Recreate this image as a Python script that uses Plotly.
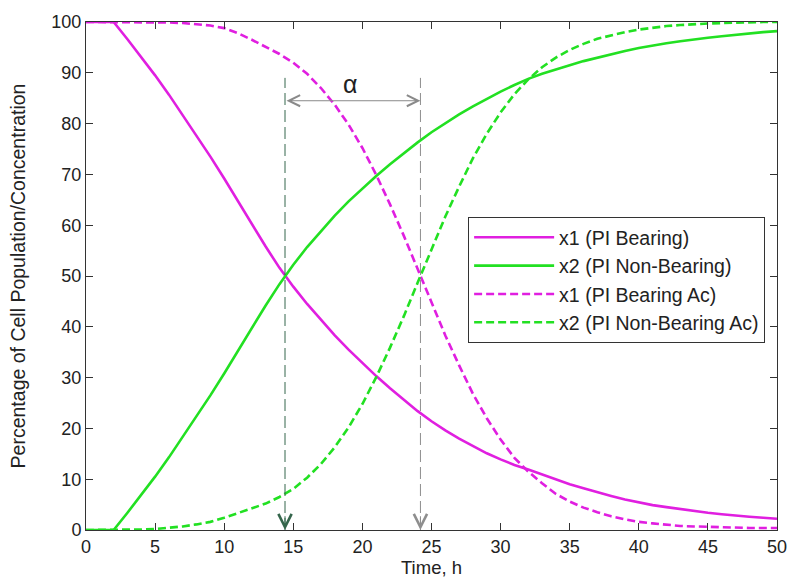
import plotly.graph_objects as go

# ---- data ----
time_h = list(range(0, 51))

x1_pi_bearing = [100, 100, 100, 96.6, 93.1, 89.5, 85.7, 81.7, 77.7, 73.5,
                 69.2, 64.7, 60.2, 55.8, 51.6, 47.9, 44.5, 41.3, 38.3, 35.5,
                 32.8, 30.3, 27.9, 25.6, 23.4, 21.4, 19.6, 18.0, 16.5, 15.1,
                 13.9, 12.8, 11.9, 10.9, 9.9, 9.0, 8.2, 7.4, 6.7, 6.0,
                 5.4, 4.9, 4.5, 4.1, 3.7, 3.4, 3.1, 2.8, 2.6, 2.4, 2.2]

x2_pi_nonbearing = [0, 0, 0, 3.4, 6.9, 10.5, 14.3, 18.3, 22.3, 26.5,
                    30.8, 35.3, 39.8, 44.2, 48.4, 52.2, 55.7, 58.9, 61.9, 64.7,
                    67.3, 69.7, 72.0, 74.2, 76.3, 78.3, 80.1, 81.8, 83.4, 84.9,
                    86.3, 87.6, 88.8, 89.8, 90.7, 91.5, 92.3, 93.0, 93.7, 94.3,
                    94.9, 95.4, 95.8, 96.2, 96.6, 96.9, 97.2, 97.5, 97.8, 98.0, 98.2]

x1_pi_bearing_ac = [100, 100, 100, 100, 100, 100, 99.9, 99.8, 99.6, 99.3,
                    98.8, 97.8, 96.5, 95.1, 93.7, 92.0, 89.8, 87.0, 83.7, 79.8,
                    75.2, 69.9, 64.1, 57.9, 51.3, 44.7, 38.3, 32.4, 26.8, 22.0,
                    17.8, 14.2, 11.5, 9.2, 7.1, 5.6, 4.4, 3.5, 2.7, 2.1,
                    1.6, 1.3, 1.0, 0.8, 0.7, 0.6, 0.5, 0.5, 0.4, 0.4, 0.4]

x2_pi_nonbearing_ac = [0, 0, 0, 0, 0.1, 0.2, 0.4, 0.7, 1.1, 1.6,
                       2.4, 3.3, 4.2, 5.2, 6.5, 8.1, 10.3, 13.0, 16.3, 20.2,
                       24.8, 30.1, 35.9, 42.1, 48.7, 55.3, 61.7, 67.6, 73.2, 78.0,
                       82.2, 85.8, 88.7, 91.1, 93.0, 94.5, 95.7, 96.7, 97.4, 98.0,
                       98.5, 98.9, 99.2, 99.4, 99.6, 99.7, 99.8, 99.9, 99.9, 100, 100]

series_names = ["x1 (PI Bearing)", "x2 (PI Non-Bearing)",
                "x1 (PI Bearing Ac)", "x2 (PI Non-Bearing Ac)"]

x_ticks = [0, 5, 10, 15, 20, 25, 30, 35, 40, 45, 50]
y_ticks = [0, 10, 20, 30, 40, 50, 60, 70, 80, 90, 100]

# annotation positions (half-population times and alpha marker)
t_half_pi = 14.4
t_half_ac = 24.2
alpha_level = 84.5
alpha_x = 19.1
marker_top = 89.0
alpha_label = "α"

# ---- styles ----
MAG = "#e01fe0"
GRN = "#22e022"
FONT = "Liberation Sans, Arial, sans-serif"
LW = 2.6

fig = go.Figure()
series = [x1_pi_bearing, x2_pi_nonbearing, x1_pi_bearing_ac, x2_pi_nonbearing_ac]
colors = [MAG, GRN, MAG, GRN]
dashes = ["solid", "solid", "8px,4px", "8px,4px"]
for name, ys, c, d in zip(series_names, series, colors, dashes):
    fig.add_trace(go.Scatter(x=time_h, y=ys, mode="lines", name=name,
                             line=dict(color=c, width=LW, dash=d),
                             cliponaxis=False))

# vertical dashed marker lines
fig.add_shape(type="line", x0=t_half_pi, x1=t_half_pi, y0=0, y1=marker_top,
              xref="x", yref="y", line=dict(color="#35664c", width=1, dash="12px,5px"))
fig.add_shape(type="line", x0=t_half_ac, x1=t_half_ac, y0=0, y1=marker_top,
              xref="x", yref="y", line=dict(color="#8e8e8e", width=1, dash="12px,5px"))

# arrow heads at bottom
for t, col in [(t_half_pi, "#35664c"), (t_half_ac, "#8e8e8e")]:
    fig.add_annotation(x=t, y=0, ax=t, ay=3, xref="x", yref="y", axref="x", ayref="y",
                       text="", showarrow=True, arrowhead=5, arrowsize=2.6,
                       arrowwidth=1, arrowcolor=col)

# double-headed alpha arrow
fig.add_annotation(x=t_half_ac, y=alpha_level, ax=t_half_pi, ay=alpha_level,
                   xref="x", yref="y", axref="x", ayref="y", text="",
                   showarrow=True, arrowside="end+start", arrowhead=5, startarrowhead=5,
                   arrowsize=2.2, startarrowsize=2.2, arrowwidth=1, arrowcolor="#8a8a8a")
fig.add_annotation(x=alpha_x, y=alpha_level, xref="x", yref="y",
                   text=alpha_label, showarrow=False, yanchor="bottom", yshift=1,
                   font=dict(family=FONT, size=25, color="#222"))

axis_common = dict(showgrid=False, zeroline=False, showline=True, linecolor="#333",
                   linewidth=1, mirror="ticks", ticks="inside", ticklen=7,
                   tickcolor="#333", tickfont=dict(family=FONT, size=18, color="#222"))

fig.update_xaxes(range=[0, 50], tickvals=x_ticks, **axis_common,
                 title=dict(text="Time, h", font=dict(family=FONT, size=18.5, color="#222"),
                            standoff=4))
fig.update_yaxes(range=[0, 100], tickvals=y_ticks, **axis_common,
                 title=dict(text="Percentage of Cell Population/Concentration",
                            font=dict(family=FONT, size=19.5, color="#222"), standoff=20))

fig.update_layout(
    width=799, height=586,
    margin=dict(l=86, r=12, t=18, b=56),
    paper_bgcolor="white", plot_bgcolor="white",
    showlegend=True,
    legend=dict(x=0.553, y=0.616, xanchor="left", yanchor="top",
                bgcolor="white", bordercolor="#333", borderwidth=1,
                font=dict(family=FONT, size=19.5, color="#222"),
                itemwidth=80, tracegroupgap=0),
)

fig.write_html("out.html")
